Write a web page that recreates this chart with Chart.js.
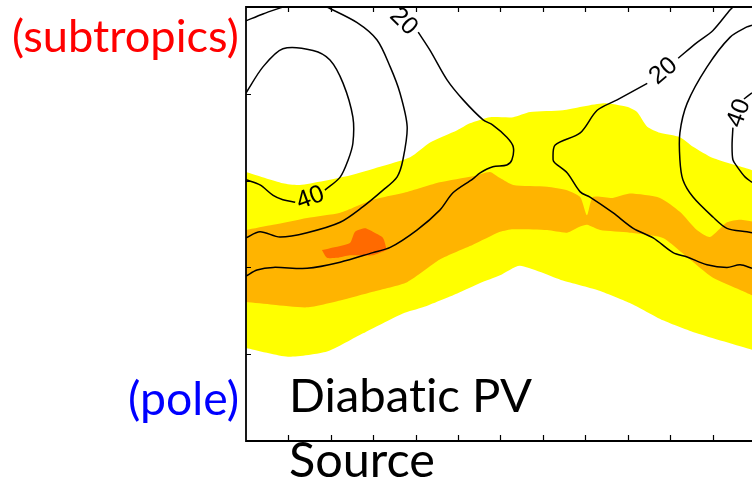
<!DOCTYPE html>
<html>
<head>
<meta charset="utf-8">
<script src="https://cdn.jsdelivr.net/npm/chart.js@4"></script>
<style>
  html, body { margin: 0; padding: 0; background: #fff; overflow: hidden; }
  canvas { display: block; }
</style>
</head>
<body>
<canvas id="pvChart" width="752" height="480"></canvas>
<script>
// axis: x along the jet (tick every 10), y from pole (0) to subtropics (50)
const X_MAX = 119.3;
const Y_MAX = 50;
const X_TICKS = [10, 20, 30, 40, 50, 60, 70, 80, 90, 100, 110];
const Y_TICKS = [10, 20, 30, 40];

// shaded diabatic PV source, upper and lower edges of each band
const YELLOW_TOP = [[0,31.0],[8.7,29.7],[12.7,29.5],[24.5,30.6],[31.6,31.6],[38.7,32.7],[43.4,34.4],[49.8,35.8],[52.8,36.6],[57.5,37.3],[63.0,37.3],[67.0,37.9],[74.7,38.1],[84.2,38.9],[89.8,38.5],[92.2,37.9],[94.6,36.2],[97.6,35.5],[102.3,35.0],[105.4,33.9],[110.1,32.6],[118.1,31.4],[119.3,31.2]];
const YELLOW_BOTTOM = [[0,10.7],[9.9,9.7],[19.1,10.3],[27.6,12.4],[31.6,13.4],[37.0,14.7],[41.7,15.4],[49.8,17.0],[55.2,18.2],[59.9,19.1],[64.6,20.2],[74.7,18.5],[82.8,17.4],[90.5,15.9],[98.3,13.9],[106.3,12.4],[119.3,10.5]];
const ORANGE_TOP = [[0,24.3],[6.4,24.9],[14.4,25.7],[22.2,26.3],[29.9,27.8],[38.0,28.7],[45.7,29.8],[53.5,30.5],[57.5,31.0],[59.9,30.3],[63.0,29.5],[71.0,29.3],[75.7,28.9],[78.8,28.1],[80.4,26.0],[81.8,28.1],[86.5,28.0],[90.5,28.5],[97.6,28.0],[102.3,26.4],[106.3,24.3],[109.4,23.5],[113.4,25.2],[116.5,25.5],[119.3,25.3]];
const ORANGE_BOTTOM = [[0,16.0],[6.4,15.7],[14.4,15.4],[22.2,16.2],[29.9,17.2],[38.0,18.3],[45.7,20.9],[53.5,22.6],[59.9,24.1],[63.0,24.4],[71.0,24.3],[75.7,24.0],[78.8,24.7],[80.4,24.9],[83.5,24.3],[90.5,24.0],[98.3,23.4],[104.0,21.2],[110.1,18.8],[116.5,17.4],[119.3,16.8]];
const PEAK_TOP = [[17.9,22.0],[19.8,22.2],[24.5,22.8],[25.7,24.1],[28.1,24.5],[29.9,24.1],[32.3,23.4],[33.2,22.0]];
const PEAK_BOTTOM = [[17.9,22.0],[19.1,21.1],[21.5,21.1],[24.5,21.4],[29.9,21.4],[33.2,22.0]];

// contour lines
const CONTOURS = [
  [[0,48.4],[4.0,49.2],[8.7,50.0]],
  [[0,40.1],[4.0,43.1],[8.7,45.2],[15.8,45.0],[19.8,43.9],[22.9,41.2],[25.2,37.3],[25.2,34.3],[24.1,32.4],[22.2,30.4],[18.6,28.9]],
  [[11.6,27.5],[8.7,27.8],[6.4,28.3],[3.3,29.5],[0,30.1]],
  [[19.1,50.0],[26.2,48.2],[30.9,46.2],[34.0,43.1],[36.3,40.1],[38.0,36.2],[37.0,32.4],[35.6,30.4],[32.3,28.9],[27.6,27.0],[22.2,25.2],[14.4,24.0],[8.0,23.5],[3.3,24.1],[0,23.4]],
  [[40.6,47.1],[43.4,45.0],[47.4,41.6],[51.2,39.3],[55.9,37.0],[58.2,36.4],[61.5,35.0],[63.0,33.9],[62.7,32.4],[61.5,31.8],[58.2,31.6],[55.2,30.9],[53.5,30.2],[48.8,28.6],[45.7,26.6],[40.3,24.3],[34.0,22.3],[29.9,21.7],[22.2,20.6],[14.4,19.9],[6.4,20.0],[2.6,19.7],[0,19.0]],
  [[94.6,41.2],[87.5,39.3],[82.8,38.1],[78.8,35.5],[72.9,34.1],[72.4,32.4],[72.9,32.0],[75.7,30.9],[78.8,28.7],[81.1,28.1],[86.5,26.3],[91.3,24.5],[96.0,23.4],[100.7,21.7],[104.0,21.2],[108.7,20.3],[113.4,20.0],[116.5,20.3],[119.3,19.9]],
  [[101.9,44.1],[106.3,45.9],[110.1,47.3],[114.1,49.65],[114.8,50.0]],
  [[119.3,47.9],[118.1,47.7],[114.1,46.5],[108.7,43.1],[104.0,38.9],[102.3,35.5],[102.3,32.4],[103.0,30.1],[105.4,28.1],[110.1,25.8],[113.4,24.5],[118.1,24.1],[119.3,24.0]],
  [[119.3,40.1],[117.4,39.4]],
  [[114.8,36.1],[114.6,34.1],[114.8,32.4],[115.8,31.6],[117.7,30.4],[119.3,29.8]]
];
const CONTOUR_LABELS = ["20", "20", "40", "40"];
const CONTOUR_LABEL_AT = [[37.3,48.4],[98.3,42.7],[116.0,37.8],[15.1,28.1]];
const CONTOUR_LABEL_ANGLE = [45, -40, -70, -20];

const pts = arr => arr.map(([x, y]) => ({x, y}));

function edge(data, color, fill, order) {
  return {
    data: pts(data),
    showLine: true,
    pointRadius: 0,
    borderWidth: 0,
    backgroundColor: color,
    fill: fill,
    tension: 0.2,
    order: order,
  };
}

const datasets = [];
for (const c of CONTOURS) {
  datasets.push({
    data: pts(c),
    showLine: true,
    pointRadius: 0,
    borderColor: "#000",
    borderWidth: 1.5,
    fill: false,
    tension: 0.3,
    order: 1,
  });
}
datasets.push(edge(YELLOW_TOP, "#ffff00", "+1", 10));
datasets.push(edge(YELLOW_BOTTOM, "#ffff00", false, 10));
datasets.push(edge(ORANGE_TOP, "#ffb400", "+1", 9));
datasets.push(edge(ORANGE_BOTTOM, "#ffb400", false, 9));
datasets.push(edge(PEAK_TOP, "#ff6a00", "+1", 8));
datasets.push(edge(PEAK_BOTTOM, "#ff6a00", false, 8));

function fitText(ctx, text, color, family, left, right, baseline) {
  ctx.font = "100px " + family;
  const size = 100 * (right - left) / ctx.measureText(text).width;
  ctx.font = size.toFixed(1) + "px " + family;
  ctx.fillStyle = color;
  ctx.textAlign = "left";
  ctx.textBaseline = "alphabetic";
  ctx.fillText(text, left, baseline);
}

const frame = {
  id: "frame",
  afterDraw(chart) {
    const {ctx, chartArea: a, scales: {x, y}} = chart;
    ctx.save();
    ctx.strokeStyle = "#000";
    ctx.lineWidth = 1.8;
    ctx.beginPath();
    ctx.moveTo(a.right + 5, a.top);
    ctx.lineTo(a.left, a.top);
    ctx.lineTo(a.left, a.bottom);
    ctx.lineTo(a.right + 5, a.bottom);
    ctx.stroke();

    ctx.lineWidth = 1.2;
    ctx.beginPath();
    for (const v of X_TICKS) {
      const px = Math.round(x.getPixelForValue(v)) + 0.5;
      ctx.moveTo(px, a.bottom);
      ctx.lineTo(px, a.bottom - 6);
      ctx.moveTo(px, a.top);
      ctx.lineTo(px, a.top + 5);
    }
    for (const v of Y_TICKS) {
      const py = Math.round(y.getPixelForValue(v)) + 0.5;
      ctx.moveTo(a.left, py);
      ctx.lineTo(a.left + 5, py);
    }
    ctx.stroke();

    ctx.fillStyle = "#000";
    ctx.font = "25px 'Liberation Sans'";
    ctx.textAlign = "center";
    ctx.textBaseline = "middle";
    CONTOUR_LABELS.forEach((t, i) => {
      const [vx, vy] = CONTOUR_LABEL_AT[i];
      ctx.save();
      ctx.translate(x.getPixelForValue(vx), y.getPixelForValue(vy));
      ctx.rotate(CONTOUR_LABEL_ANGLE[i] * Math.PI / 180);
      ctx.fillText(t, 0, 1);
      ctx.restore();
    });

    fitText(ctx, "(subtropics)", "#ff0000", "Lato", 12, 239, 52);
    fitText(ctx, "(pole)", "#0000ff", "Lato", 128, 239, 415);
    // zero-width non-joiner keeps Lato from joining "ti"
    fitText(ctx, "Diabat\u200Cic PV", "#000", "Lato", 289, 532, 412);
    fitText(ctx, "Source", "#000", "Lato", 289, 435, 477);
    ctx.restore();
  }
};

new Chart(document.getElementById("pvChart").getContext("2d"), {
  type: "scatter",
  data: { datasets },
  options: {
    responsive: false,
    animation: false,
    devicePixelRatio: 1,
    layout: { padding: { left: 246, top: 7, right: 0, bottom: 39 } },
    scales: {
      x: { type: "linear", min: 0, max: X_MAX, display: false },
      y: { type: "linear", min: 0, max: Y_MAX, display: false },
    },
    plugins: { legend: { display: false }, tooltip: { enabled: false } },
  },
  plugins: [frame],
});
</script>
</body>
</html>
